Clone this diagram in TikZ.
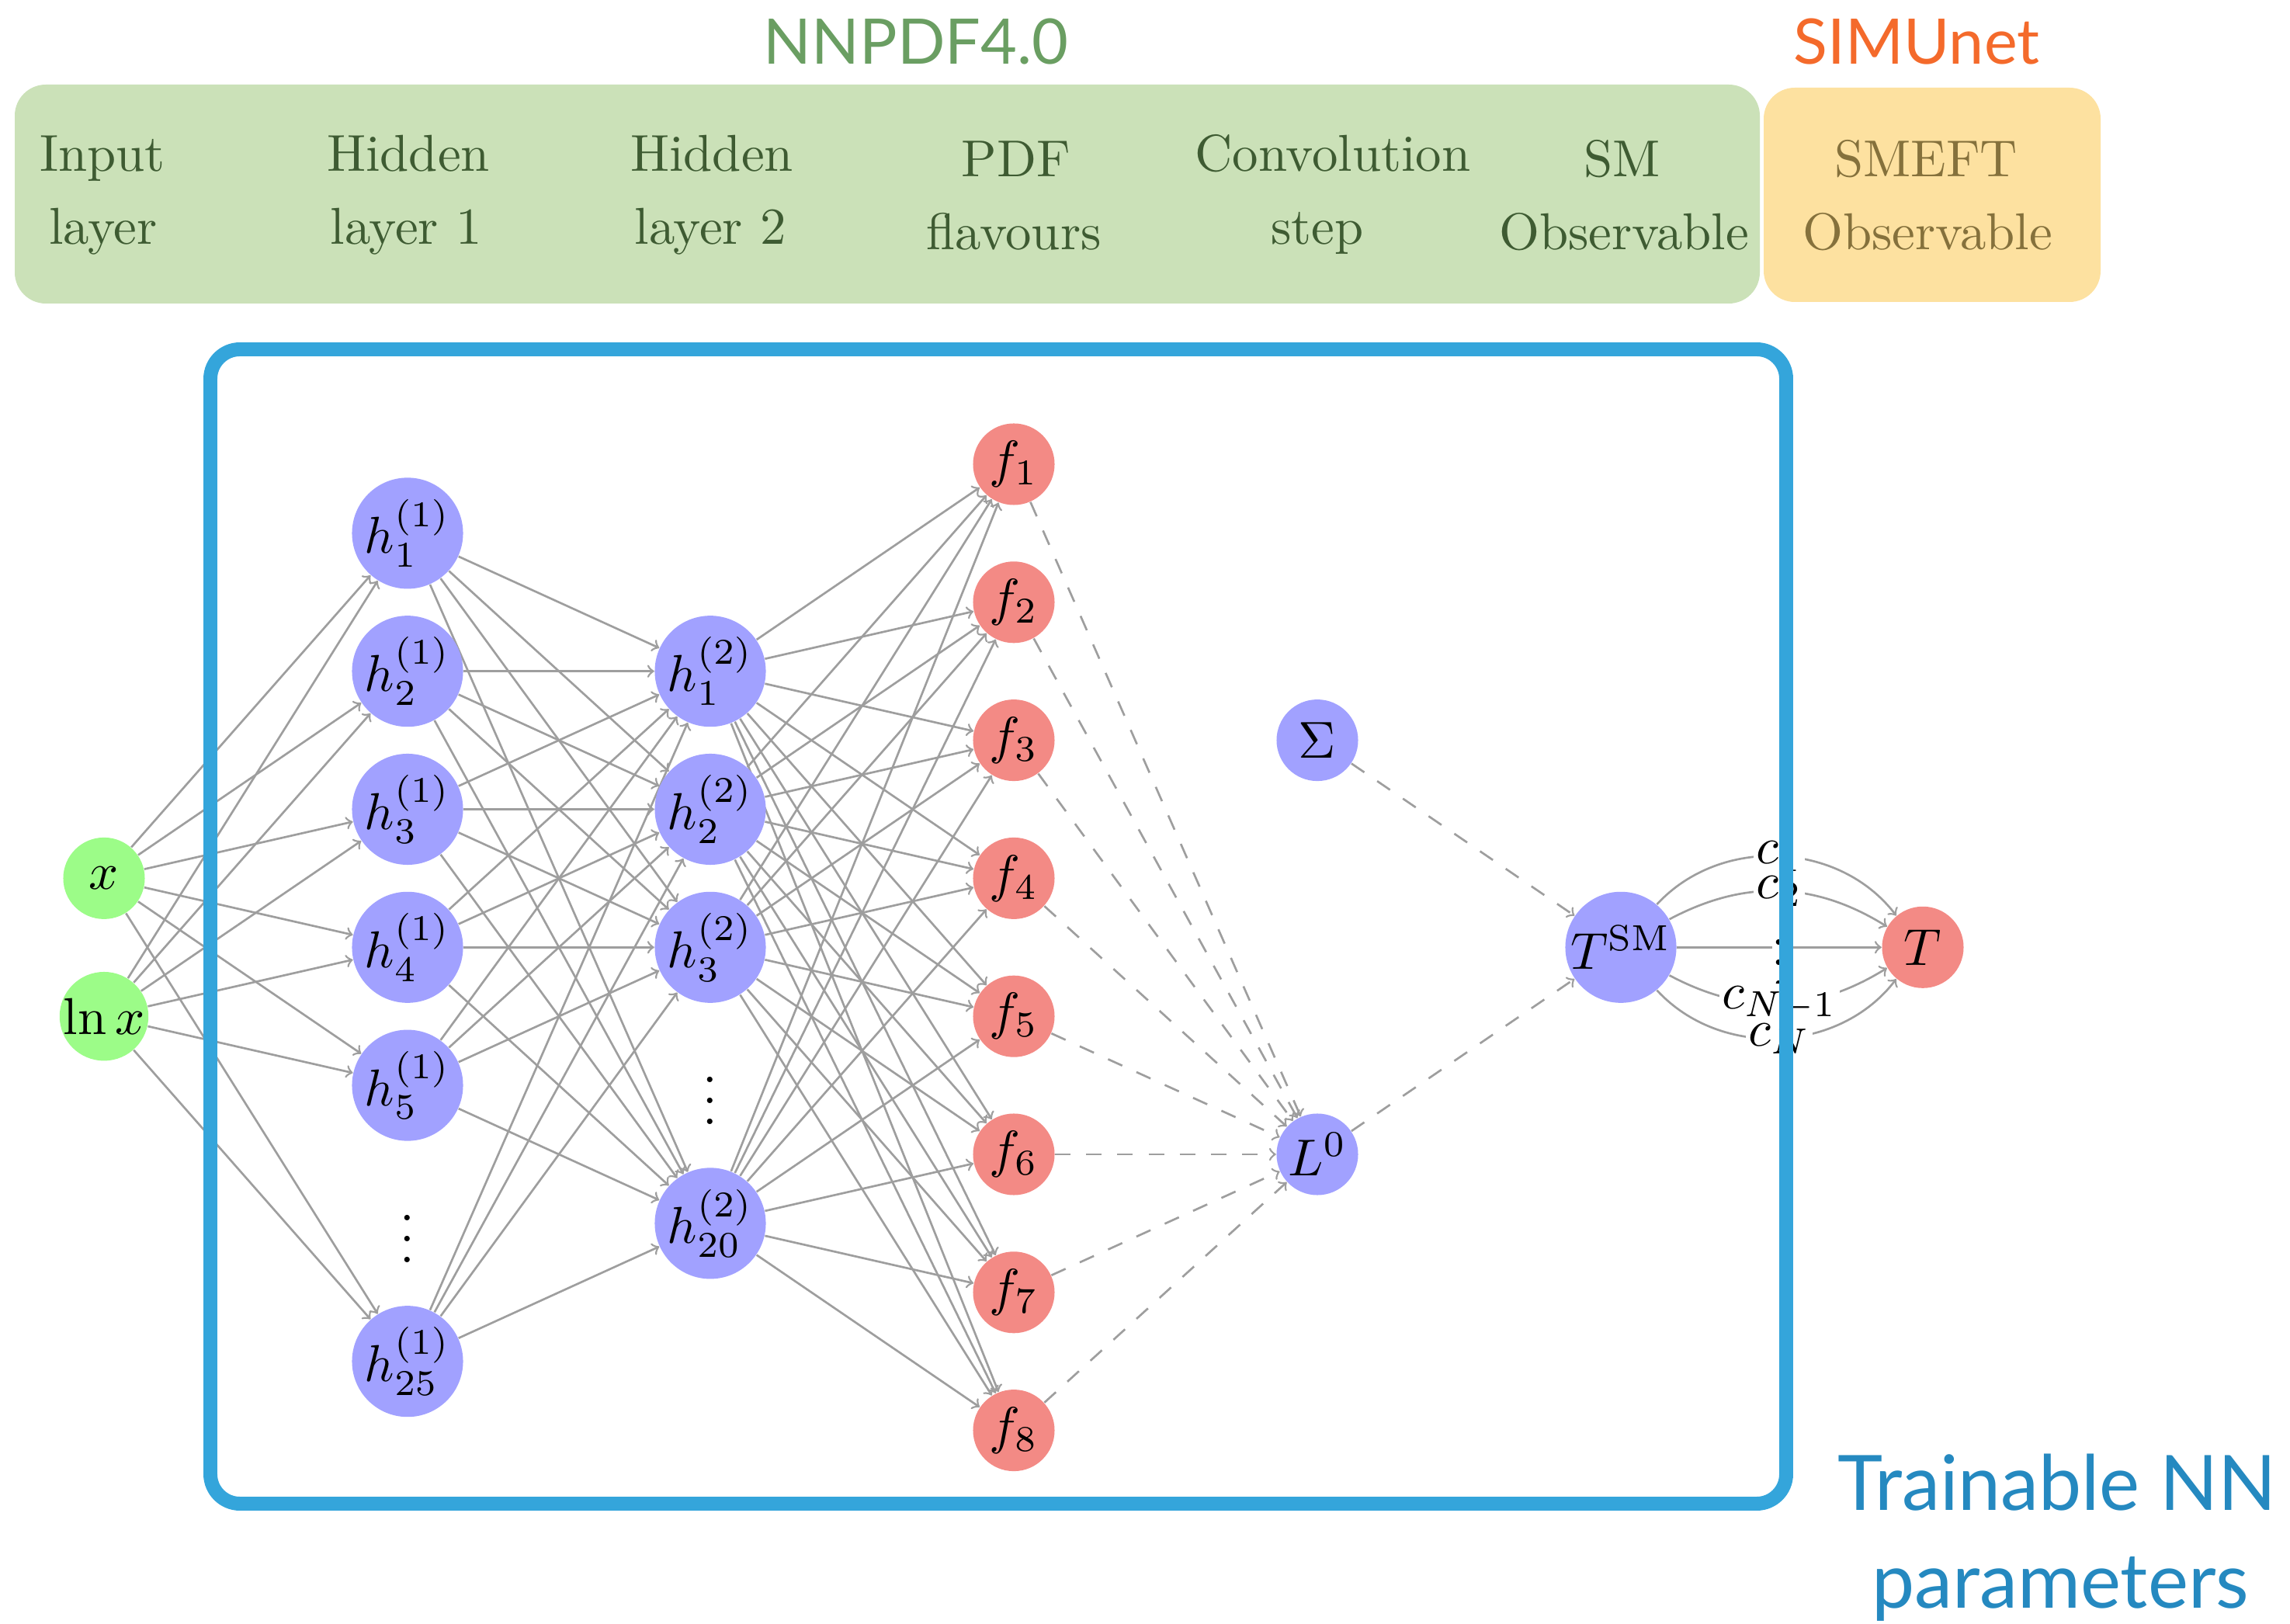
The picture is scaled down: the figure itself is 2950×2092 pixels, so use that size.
\documentclass[tikz,border=0pt]{standalone}
\usepackage{fontspec}
\newfontfamily\labelsans{Lato}
\usetikzlibrary{backgrounds}

\definecolor{hidfill}{HTML}{A1A1FF}
\definecolor{pdffill}{HTML}{F38A85}
\definecolor{infill}{HTML}{9CFC88}
\definecolor{edgegray}{HTML}{9E9E9E}
\definecolor{nnpdfbox}{HTML}{CBE1B8}
\definecolor{nnpdftext}{HTML}{3E5B32}
\definecolor{nnpdftitle}{HTML}{6A9E62}
\definecolor{simubox}{HTML}{FDE1A0}
\definecolor{simutext}{HTML}{85713C}
\definecolor{simutitle}{HTML}{F46A2B}
\definecolor{framecol}{HTML}{34A5DB}
\definecolor{trainblue}{HTML}{2589C0}

% enlarge ordinary 10pt text, keeping the 10pt glyph design
\newcommand{\upsz}[1]{\scalebox{1.9}{#1}}

\tikzset{
  neuron/.style={circle, inner sep=0pt, text=black},
  hid/.style={neuron, fill=hidfill, minimum size=1.43cm},
  sml/.style={neuron, minimum size=1.05cm},
  inp/.style={sml, fill=infill},
  pdf/.style={sml, fill=pdffill},
  aux/.style={sml, fill=hidfill},
  dotsnode/.style={inner sep=0pt},
  link/.style={->, draw=edgegray, line width=0.76pt},
  dlink/.style={link, dash pattern=on 5.7pt off 5.7pt},
  clabel/.style={fill=white, inner sep=1pt},
  hdr/.style={anchor=base, inner sep=0pt, text=nnpdftext},
  hdrsmeft/.style={hdr, text=simutext},
  title/.style={anchor=base, inner sep=0pt, font=\labelsans\fontsize{23}{28}\selectfont},
  trainlbl/.style={anchor=base, inner sep=0pt, text=trainblue, font=\labelsans\fontsize{28}{33}\selectfont},
}

\begin{document}
\begin{tikzpicture}[x=0.01cm, y=0.01cm]
\useasboundingbox (0,0) rectangle (2950,-2092);

% ---- header bands ----
\fill[nnpdfbox, rounded corners=0.4cm] (19,-109) rectangle (2267,-391);
\fill[simubox, rounded corners=0.4cm] (2272,-113) rectangle (2706,-389);

\node[title, text=nnpdftitle] (ttlnn) at (1180,-83) {NNPDF4.0};
\node[title, text=simutitle] (ttlsimu) at (2469,-83) {SIMUnet};

\node[hdr] (hin1) at (132,-221) {\upsz{Input}};
\node[hdr] (hin2) at (133,-315) {\upsz{layer}};
\node[hdr] (hha1) at (526,-221) {\upsz{Hidden}};
\node[hdr] (hha2) at (523,-315) {\upsz{layer 1}};
\node[hdr] (hhb1) at (917,-221) {\upsz{Hidden}};
\node[hdr] (hhb2) at (915,-315) {\upsz{layer 2}};
\node[hdr] (hpdf1) at (1309,-228) {\upsz{PDF}};
\node[hdr] (hpdf2) at (1306,-322) {\upsz{flavours}};
\node[hdr] (hcv1) at (1717,-221) {\upsz{Convolution}};
\node[hdr] (hcv2) at (1697,-315) {\upsz{step}};
\node[hdr] (hsm1) at (2090,-228) {\upsz{SM}};
\node[hdr] (hsm2) at (2092,-322) {\upsz{Observable}};
\node[hdrsmeft] (hse1) at (2481,-228) {\upsz{SMEFT}};
\node[hdrsmeft] (hse2) at (2483,-322) {\upsz{Observable}};

% ---- input layer ----
\node[inp] (x)   at (134,-1131.4) {\upsz{$x$}};
\node[inp] (lnx) at (134,-1309.2) {\upsz{$\ln x$}};

% ---- hidden layer 1 ----
\node[hid] (a1)  at (525,-686.9)  {\upsz{$h^{(1)}_{1}$}};
\node[hid] (a2)  at (525,-864.7)  {\upsz{$h^{(1)}_{2}$}};
\node[hid] (a3)  at (525,-1042.5) {\upsz{$h^{(1)}_{3}$}};
\node[hid] (a4)  at (525,-1220.3) {\upsz{$h^{(1)}_{4}$}};
\node[hid] (a5)  at (525,-1398.1) {\upsz{$h^{(1)}_{5}$}};
\node[dotsnode] (a6) at (525,-1575.9) {\upsz{$\vdots$}};
\node[hid] (a25) at (525,-1753.7) {\upsz{$h^{(1)}_{25}$}};

% ---- hidden layer 2 ----
\node[hid] (b1)  at (915,-864.7)  {\upsz{$h^{(2)}_{1}$}};
\node[hid] (b2)  at (915,-1042.5) {\upsz{$h^{(2)}_{2}$}};
\node[hid] (b3)  at (915,-1220.3) {\upsz{$h^{(2)}_{3}$}};
\node[dotsnode] (b4) at (915,-1398.1) {\upsz{$\vdots$}};
\node[hid] (b20) at (915,-1575.9) {\upsz{$h^{(2)}_{20}$}};

% ---- PDF flavours ----
\node[pdf] (f1) at (1306,-598)    {\upsz{$f_1$}};
\node[pdf] (f2) at (1306,-775.8)  {\upsz{$f_2$}};
\node[pdf] (f3) at (1306,-953.6)  {\upsz{$f_3$}};
\node[pdf] (f4) at (1306,-1131.4) {\upsz{$f_4$}};
\node[pdf] (f5) at (1306,-1309.2) {\upsz{$f_5$}};
\node[pdf] (f6) at (1306,-1487)   {\upsz{$f_6$}};
\node[pdf] (f7) at (1306,-1664.8) {\upsz{$f_7$}};
\node[pdf] (f8) at (1306,-1842.6) {\upsz{$f_8$}};

% ---- convolution and observables ----
\node[aux] (S)   at (1697,-953.6) {\upsz{$\Sigma$}};
\node[aux] (L)   at (1697,-1487)  {\upsz{$L^0$}};
\node[hid] (TSM) at (2088,-1220.3) {\upsz{$T^{\mathrm{SM}}$}};
\node[pdf] (T)   at (2477,-1220.3) {\upsz{$T$}};

% ---- connections ----
\begin{scope}[on background layer]
  \foreach \i in {x,lnx}
    \foreach \j in {a1,a2,a3,a4,a5,a25}
      \draw[link] (\i) -- (\j);
  \foreach \i in {a1,a2,a3,a4,a5,a25}
    \foreach \j in {b1,b2,b3,b20}
      \draw[link] (\i) -- (\j);
  \foreach \i in {b1,b2,b3,b20}
    \foreach \j in {1,...,8}
      \draw[link] (\i) -- (f\j);
  \foreach \j in {1,...,8}
    \draw[dlink] (f\j) -- (L);
  \draw[dlink] (S) -- (TSM);
  \draw[dlink] (L) -- (TSM);
  \draw[link] (TSM) to[bend left=50] node[clabel] (lc1) {\upsz{$c_1$}} (T);
  \draw[link] (TSM) to[bend left=30] node[clabel] (lc2) {\upsz{$c_2$}} (T);
  \draw[link] (TSM) -- node[clabel, inner sep=0pt] (lcd) {\upsz{$\vdots$}} (T);
  \draw[link] (TSM) to[bend right=30] node[clabel] (lcn1) {\upsz{$c_{N-1}$}} (T);
  \draw[link] (TSM) to[bend right=50] node[clabel] (lcn) {\upsz{$c_N$}} (T);
\end{scope}

% ---- trainable part ----
\draw[framecol, line width=5.1pt, rounded corners=0.38cm] (271,-450) rectangle (2301,-1937);
\node[trainlbl] (tr1) at (2650,-1945) {Trainable NN};
\node[trainlbl] (tr2) at (2654,-2071) {parameters};
\end{tikzpicture}
\end{document}
